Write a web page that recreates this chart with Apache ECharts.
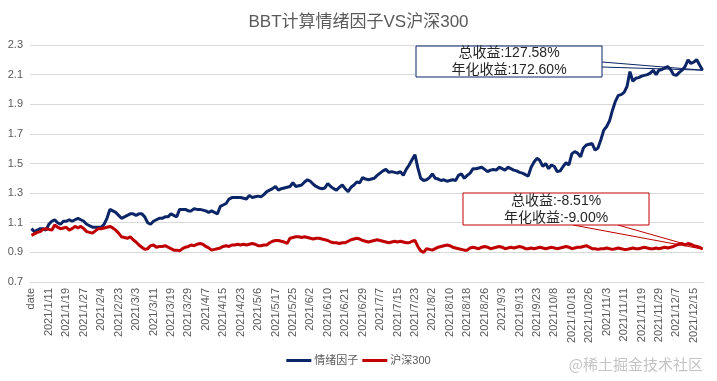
<!DOCTYPE html>
<html><head><meta charset="utf-8">
<script src="https://cdn.jsdelivr.net/npm/echarts@6/dist/echarts.min.js"></script>
<style>html,body{margin:0;padding:0;background:#fff}#c{width:717px;height:381px}</style>
</head><body><div id="c"></div>
<script>
const titleText = "BBT计算情绪因子VS沪深300";
const seriesNames = ["情绪因子", "沪深300"];
const tradingDays = {
  1: [4,5,6,7,8,11,12,13,14,15,18,19,20,21,22,25,26,27,28,29],
  2: [1,2,3,4,5,8,9,10,22,23,24,25,26],
  3: [1,2,3,4,5,8,9,10,11,12,15,16,17,18,19,22,23,24,25,26,29,30,31],
  4: [1,2,6,7,8,9,12,13,14,15,16,19,20,21,22,23,26,27,28,29,30],
  5: [6,7,10,11,12,13,17,18,19,20,21,24,25,26,27,28,31],
  6: [1,2,3,4,7,8,9,10,11,15,16,17,18,21,22,23,24,25,28,29,30],
  7: [1,2,5,6,7,8,9,12,13,14,15,16,19,20,21,22,23,26,27,28,29,30],
  8: [2,3,4,5,6,9,10,11,12,13,16,17,18,19,20,23,24,25,26,27,30,31],
  9: [1,2,3,6,7,8,9,10,13,14,15,16,17,22,23,24,27,28,29,30],
  10: [8,11,12,13,14,15,18,19,20,21,22,25,26,27,28,29],
  11: [1,2,3,4,5,8,9,10,11,12,15,16,17,18,19,22,23,24,25,26,29,30],
  12: [1,2,3,6,7,8,9,10,13,14,15,16,17,20]
};
const categories = ["date"];
Object.keys(tradingDays).forEach(m => tradingDays[m].forEach(d => categories.push("2021/" + m + "/" + d)));

const sentiment = [
1.06,1.04,1.05,1.06,1.06,1.05,1.09,1.11,1.12,1.10,
1.09,1.11,1.11,1.12,1.11,1.12,1.13,1.12,1.11,1.09,
1.08,1.07,1.07,1.07,1.07,1.09,1.13,1.19,1.18,1.17,
1.15,1.13,1.14,1.15,1.16,1.16,1.15,1.16,1.16,1.14,
1.10,1.09,1.11,1.12,1.13,1.13,1.14,1.14,1.16,1.15,
1.14,1.19,1.19,1.19,1.18,1.18,1.195,1.19,1.19,1.185,
1.18,1.17,1.18,1.17,1.16,1.21,1.22,1.23,1.26,1.27,
1.27,1.27,1.27,1.265,1.26,1.285,1.27,1.275,1.28,1.275,
1.29,1.31,1.32,1.33,1.345,1.32,1.33,1.335,1.34,1.345,
1.37,1.345,1.35,1.355,1.375,1.39,1.38,1.36,1.345,1.335,
1.33,1.335,1.365,1.345,1.33,1.32,1.34,1.355,1.33,1.31,
1.34,1.355,1.375,1.37,1.405,1.395,1.39,1.395,1.40,1.42,
1.435,1.45,1.46,1.44,1.445,1.44,1.435,1.445,1.42,1.46,
1.49,1.525,1.56,1.47,1.40,1.385,1.39,1.405,1.43,1.40,
1.395,1.385,1.39,1.38,1.385,1.39,1.385,1.42,1.43,1.40,
1.42,1.435,1.465,1.465,1.47,1.475,1.46,1.445,1.455,1.46,
1.455,1.475,1.465,1.455,1.475,1.465,1.455,1.45,1.44,1.435,
1.425,1.415,1.475,1.51,1.535,1.52,1.48,1.50,1.465,1.49,
1.48,1.445,1.45,1.48,1.505,1.49,1.565,1.58,1.57,1.545,
1.605,1.625,1.63,1.635,1.59,1.605,1.66,1.725,1.75,1.79,
1.86,1.92,1.96,1.965,1.98,2.02,2.12,2.055,2.075,2.08,
2.09,2.095,2.10,2.11,2.13,2.10,2.13,2.135,2.145,2.155,
2.135,2.10,2.095,2.115,2.13,2.155,2.20,2.175,2.185,2.20,
2.165,2.13];

const hs300 = [
1.015,1.025,1.035,1.04,1.055,1.06,1.055,1.05,1.085,1.07,
1.06,1.065,1.07,1.05,1.06,1.075,1.065,1.075,1.06,1.04,
1.035,1.03,1.045,1.06,1.06,1.065,1.07,1.075,1.065,1.05,
1.03,1.005,1.0,0.995,1.005,0.985,0.97,0.95,0.935,0.92,
0.925,0.945,0.95,0.935,0.94,0.94,0.945,0.935,0.925,0.915,
0.915,0.91,0.925,0.935,0.94,0.95,0.945,0.955,0.96,0.955,
0.94,0.93,0.915,0.92,0.925,0.93,0.94,0.945,0.94,0.95,
0.95,0.955,0.95,0.955,0.95,0.955,0.96,0.955,0.945,0.945,
0.95,0.95,0.965,0.975,0.98,0.98,0.975,0.97,0.96,0.995,
1.0,1.005,1.005,1.0,1.005,1.0,0.995,0.99,0.995,0.995,
0.99,0.985,0.98,0.97,0.965,0.965,0.96,0.965,0.965,0.975,
0.985,0.99,0.995,0.99,0.98,0.975,0.97,0.975,0.98,0.985,
0.98,0.975,0.97,0.965,0.97,0.975,0.97,0.975,0.97,0.965,
0.965,0.975,0.98,0.94,0.91,0.90,0.925,0.92,0.915,0.925,
0.935,0.94,0.945,0.95,0.945,0.935,0.93,0.925,0.92,0.915,
0.915,0.93,0.935,0.93,0.925,0.935,0.94,0.935,0.925,0.93,
0.935,0.94,0.935,0.925,0.93,0.935,0.93,0.935,0.94,0.935,
0.925,0.925,0.93,0.925,0.93,0.935,0.93,0.925,0.93,0.935,
0.93,0.925,0.93,0.935,0.94,0.935,0.925,0.93,0.935,0.935,
0.94,0.945,0.935,0.925,0.925,0.92,0.925,0.925,0.93,0.925,
0.92,0.925,0.93,0.925,0.92,0.92,0.925,0.93,0.925,0.925,
0.93,0.935,0.93,0.925,0.925,0.93,0.925,0.93,0.935,0.93,
0.935,0.94,0.95,0.955,0.96,0.95,0.96,0.955,0.945,0.94,
0.935,0.922];

const sentimentNotes = ["总收益:127.58%", "年化收益:172.60%"];
const hs300Notes = ["总收益:-8.51%", "年化收益:-9.00%"];
const watermarkText = "@稀土掘金技术社区";

const FONT = "'Liberation Sans', 'Noto Sans CJK SC', sans-serif";
const BLUE = "#0b2566";
const RED = "#c00000";

const chart = echarts.init(document.getElementById('c'), null, {renderer: 'canvas'});
chart.setOption({
  animation: false,
  backgroundColor: '#fff',
  title: {
    text: titleText, left: 'center', top: 9,
    textStyle: {fontFamily: FONT, fontSize: 17, fontWeight: 'normal', color: '#595959'}
  },
  legend: {
    bottom: 10, left: 'center', itemGap: 4, itemWidth: 25, itemHeight: 3, icon: 'rect',
    textStyle: {fontFamily: FONT, fontSize: 11, color: '#595959', padding: [0,0,0,-2]},
    data: seriesNames
  },
  grid: {left: 30, right: 13, top: 45, bottom: 99},
  xAxis: {
    type: 'category', data: categories, boundaryGap: true,
    axisLine: {lineStyle: {color: '#d9d9d9'}},
    axisTick: {show: false},
    axisLabel: {interval: 5, rotate: 90, margin: 6, fontFamily: FONT, fontSize: 11, color: '#595959'}
  },
  yAxis: {
    type: 'value', min: 0.7, max: 2.3, interval: 0.1,
    axisLine: {show: false}, axisTick: {show: false},
    axisLabel: {
      margin: 7, fontFamily: FONT, fontSize: 11, color: '#595959',
      formatter: v => (Math.round(v * 10) % 2 === 1) ? v.toFixed(1) : ''
    },
    splitLine: {lineStyle: {color: ['#d9d9d9', 'rgba(0,0,0,0)'], width: 1}}
  },
  series: [
    {name: seriesNames[0], type: 'line', data: sentiment, symbol: 'none', lineStyle: {color: BLUE, width: 3}, itemStyle: {color: BLUE}},
    {name: seriesNames[1], type: 'line', data: hs300, symbol: 'none', lineStyle: {color: RED, width: 3}, itemStyle: {color: RED}}
  ]
});

const last = categories.length - 1;
const tipA = chart.convertToPixel({seriesIndex: 0}, [last, sentiment[last]]);
const tipB = chart.convertToPixel({seriesIndex: 1}, [last, hs300[last]]);
const noteFont = "14px 'Liberation Sans', 'Noto Sans CJK SC', sans-serif";
function box(x, y, w, h, color, lines) {
  return [
    {type: 'rect', shape: {x: x, y: y, width: w, height: h}, style: {fill: '#fff', stroke: color, lineWidth: 1}, z: 10},
    {type: 'text', x: x + w / 2, y: y + h / 2 - 8, style: {text: lines[0], font: noteFont, fill: '#262626', align: 'center', verticalAlign: 'middle'}, z: 11},
    {type: 'text', x: x + w / 2, y: y + h / 2 + 9, style: {text: lines[1], font: noteFont, fill: '#262626', align: 'center', verticalAlign: 'middle'}, z: 11}
  ];
}
chart.setOption({
  graphic: [
    {type: 'polyline', shape: {points: [[602, 62], tipA, [602, 67]]}, style: {stroke: BLUE, lineWidth: 1, fill: null}, z: 9},
    ...box(416, 46, 186, 31, BLUE, sentimentNotes),
    {type: 'polyline', shape: {points: [[573, 225], tipB, [618, 225]]}, style: {stroke: RED, lineWidth: 1, fill: null}, z: 9},
    ...box(463, 193, 186, 32, RED, hs300Notes),
    {type: 'text', right: 14, top: 357, style: {text: watermarkText, font: "15px 'Noto Sans CJK SC', sans-serif", fill: '#c4c4c4'}, z: 12}
  ]
});
</script></body></html>
